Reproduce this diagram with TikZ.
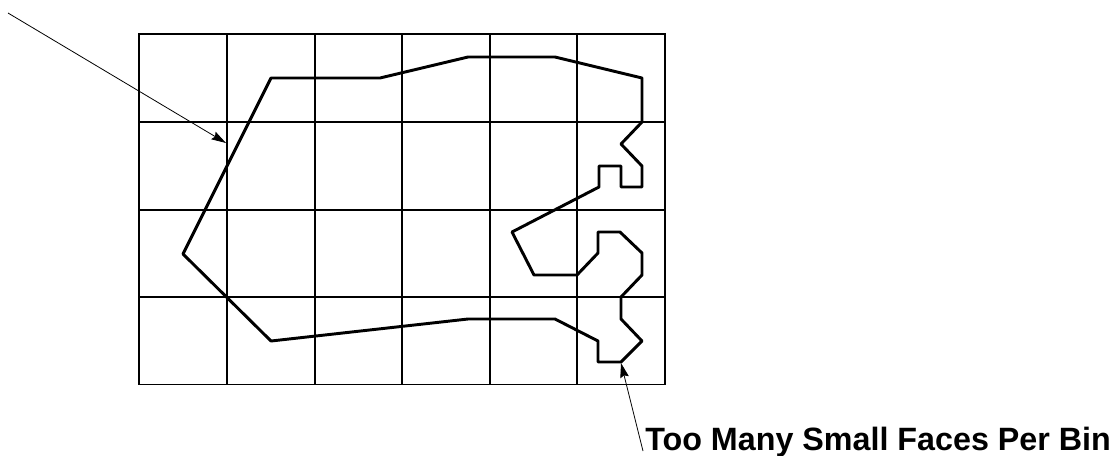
\documentclass[tikz,border=0pt]{standalone}
\usepackage{fontspec}
\setmainfont{Liberation Sans}
\usetikzlibrary{arrows.meta}
\tikzset{
  px/.style={x=0.75pt,y=-0.75pt},
  gridline/.style={draw=black,line width=0.95pt},
  outline/.style={draw=black,line width=2.2pt,line join=round},
  leader/.style={draw=black,line width=0.6pt,-{Stealth[length=11pt,width=6.5pt,inset=1.5pt]}},
  lbl/.style={anchor=base west,inner sep=0pt,font=\fontsize{24.2pt}{28pt}\selectfont\bfseries}
}
\begin{document}
\begin{tikzpicture}[px]
\useasboundingbox (0,0) rectangle (1116,455);
\foreach \x in {139,227,315,402,490,577,665}{\draw[gridline,line cap=rect] (\x,34) -- (\x,384.5);}
\foreach \y in {34,122,210,297,384.5}{\draw[gridline,line cap=rect] (139,\y) -- (665,\y);}
\draw[outline] (271,78) -- (380,78) -- (468,57) -- (555,57) -- (642,78) -- (642,122) -- (621,144) -- (642,166) -- (642,187) -- (621,187) -- (621,166) -- (599,166) -- (599,187) -- (512,232) -- (534,275) -- (577,275) -- (598,253) -- (598,232) -- (620,232) -- (642,253) -- (642,275) -- (621,297) -- (621,319) -- (642,341) -- (621,362) -- (598,362) -- (598,341) -- (555,319) -- (468,319) -- (271,341) -- (183,254) -- cycle;
\coordinate (edgept) at (226,143);
\coordinate (farend) at (8,13);
\coordinate (notch) at (621,363);
\coordinate (lblend) at (643,451);
\node[lbl] (label) at (645,450) {Too Many Small Faces Per Bin};
\draw[leader] (farend) -- (edgept);
\draw[leader] (lblend) -- (notch);
\end{tikzpicture}
\end{document}
